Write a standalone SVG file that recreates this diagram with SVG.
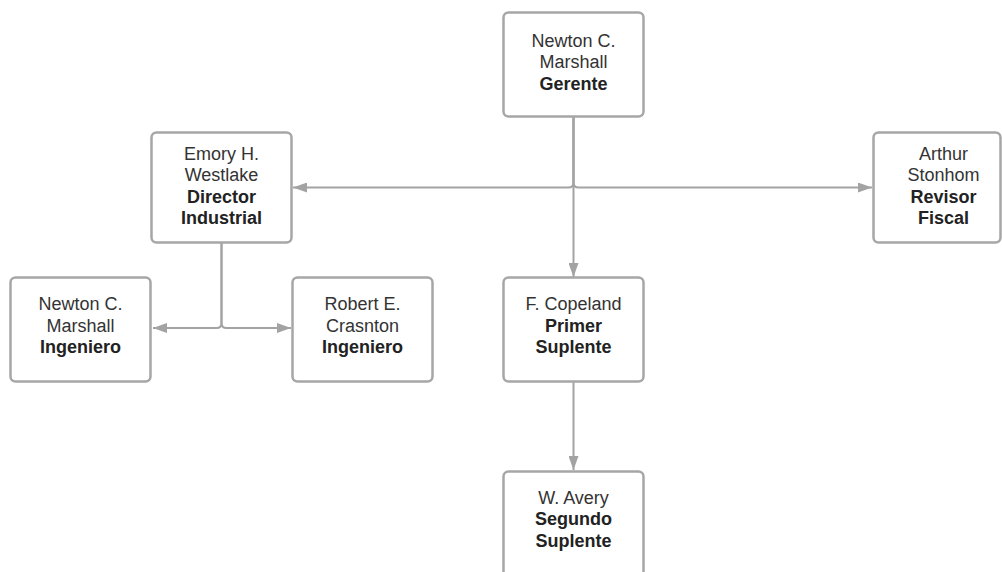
<svg xmlns="http://www.w3.org/2000/svg" width="1002" height="572" viewBox="0 0 1002 572">
<style>
.box{fill:#fff;stroke:#a6a6a6;stroke-width:2.5}
.conn{fill:none;stroke:#a3a3a3;stroke-width:2}
text{font-family:"Liberation Sans",Arial,sans-serif;font-size:18px;fill:#333;text-anchor:middle}
.b{font-weight:bold;fill:#222}
</style>
<defs>
<marker id="ah" viewBox="0 0 14 10" refX="14" refY="5" markerWidth="14" markerHeight="10" markerUnits="userSpaceOnUse" orient="auto">
<path d="M0,0 L14,5 L0,10 Z" fill="#a3a3a3"/>
</marker>
</defs>
<rect width="1002" height="572" fill="#fff"/>
<g id="connectors">
<path class="conn" d="M573.5,117 V277" marker-end="url(#ah)"/>
<path class="conn" d="M573.5,117 V182.5 Q573.5,187.5 568.5,187.5 H293" marker-end="url(#ah)"/>
<path class="conn" d="M573.5,117 V182.5 Q573.5,187.5 578.5,187.5 H872" marker-end="url(#ah)"/>
<path class="conn" d="M221.5,243 V323 Q221.5,328 216.5,328 H153" marker-end="url(#ah)"/>
<path class="conn" d="M221.5,243 V323 Q221.5,328 226.5,328 H291" marker-end="url(#ah)"/>
<path class="conn" d="M573.5,382 V470" marker-end="url(#ah)"/>
</g>
<g id="gerente">
<rect class="box" x="503.5" y="12.5" width="140" height="104" rx="5"/>
<text x="573.5" y="46.5">Newton C.</text>
<text x="573.5" y="68">Marshall</text>
<text class="b" x="573.5" y="89.5">Gerente</text>
</g>
<g id="director">
<rect class="box" x="151.5" y="132.5" width="140" height="110" rx="5"/>
<text x="221.5" y="159.5">Emory H.</text>
<text x="221.5" y="181">Westlake</text>
<text class="b" x="221.5" y="202.5">Director</text>
<text class="b" x="221.5" y="224">Industrial</text>
</g>
<g id="revisor">
<rect class="box" x="873.5" y="132.5" width="127" height="110" rx="5"/>
<text x="943.5" y="159.5">Arthur</text>
<text x="943.5" y="181">Stonhom</text>
<text class="b" x="943.5" y="202.5">Revisor</text>
<text class="b" x="943.5" y="224">Fiscal</text>
</g>
<g id="ingeniero1">
<rect class="box" x="10.5" y="277.5" width="140" height="104" rx="5"/>
<text x="80.5" y="310">Newton C.</text>
<text x="80.5" y="331.5">Marshall</text>
<text class="b" x="80.5" y="353">Ingeniero</text>
</g>
<g id="ingeniero2">
<rect class="box" x="292.5" y="277.5" width="140" height="104" rx="5"/>
<text x="362.5" y="310">Robert E.</text>
<text x="362.5" y="331.5">Crasnton</text>
<text class="b" x="362.5" y="353">Ingeniero</text>
</g>
<g id="primer">
<rect class="box" x="503.5" y="277.5" width="140" height="104" rx="5"/>
<text x="573.5" y="310">F. Copeland</text>
<text class="b" x="573.5" y="331.5">Primer</text>
<text class="b" x="573.5" y="353">Suplente</text>
</g>
<g id="segundo">
<rect class="box" x="503.5" y="471.5" width="140" height="110" rx="5"/>
<text x="573.5" y="503.5">W. Avery</text>
<text class="b" x="573.5" y="525">Segundo</text>
<text class="b" x="573.5" y="546.5">Suplente</text>
</g>
</svg>
